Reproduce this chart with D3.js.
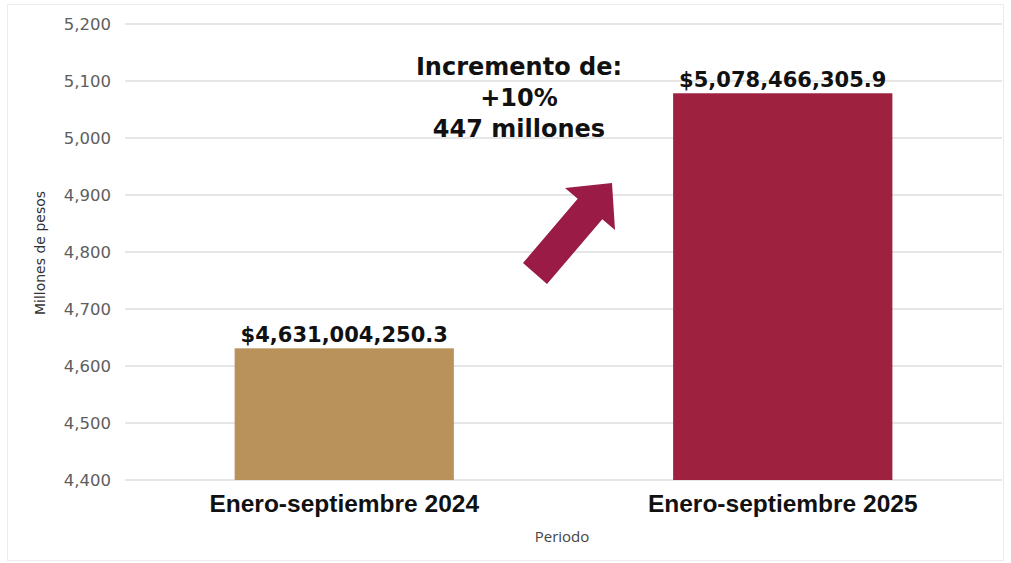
<!DOCTYPE html>
<html><head><meta charset="utf-8">
<script src="https://cdn.jsdelivr.net/npm/d3@7/dist/d3.min.js"></script>
<style>body{margin:0;background:#fff}</style>
</head><body>
<svg id="c" width="1011" height="563"></svg>
<script>
const categories = ["Enero-septiembre 2024", "Enero-septiembre 2025"];
const values = [4631.0042503, 5078.4663059];
const valueLabels = ["$4,631,004,250.3", "$5,078,466,305.9"];
const barColors = ["#b9925b", "#9e2240"];
const yTicks = [4400, 4500, 4600, 4700, 4800, 4900, 5000, 5100, 5200];
const annotation = ["Incremento de:", "+10%", "447 millones"];

const svg = d3.select("#c");
svg.append("rect").attr("x",7.5).attr("y",4.5).attr("width",996).attr("height",556)
  .attr("fill","#fff").attr("stroke","#ececec");

const x = d3.scaleBand().domain(categories).range([125, 1002]).paddingInner(0.5).paddingOuter(0.25);
const y = d3.scaleLinear().domain([4400, 5200]).range([480, 24]);

// grid
svg.append("g").selectAll("line").data(yTicks).join("line")
  .attr("x1",125).attr("x2",1002).attr("y1",d=>y(d)).attr("y2",d=>y(d))
  .attr("stroke","#e6e6e6").attr("stroke-width",2);

// y axis
const ya = svg.append("g").attr("transform","translate(111,0)")
  .call(d3.axisLeft(y).tickValues(yTicks).tickSize(0).tickPadding(0).tickFormat(d3.format(",")));
ya.select(".domain").remove();
ya.selectAll("text").attr("font-family","'DejaVu Sans', sans-serif").attr("font-size",16.5)
  .attr("fill","#5e5e5e");

svg.append("text").attr("transform","translate(45,253) rotate(-90)").attr("text-anchor","middle")
  .attr("font-family","'DejaVu Sans', sans-serif").attr("font-size",14).attr("fill","#333").text("Millones de pesos");

// bars
svg.append("g").selectAll("rect").data(values).join("rect")
  .attr("x",(d,i)=>x(categories[i])).attr("width",x.bandwidth())
  .attr("y",d=>y(d)).attr("height",d=>y(4400)-y(d)).attr("fill",(d,i)=>barColors[i]);

// value labels
svg.append("g").selectAll("text").data(values).join("text")
  .attr("x",(d,i)=>x(categories[i])+x.bandwidth()/2).attr("y",d=>y(d)-6)
  .attr("text-anchor","middle").attr("font-family","'DejaVu Sans', sans-serif")
  .attr("font-weight","bold").attr("font-size",21).attr("fill","#111").text((d,i)=>valueLabels[i]);

// x axis labels
const xa = svg.append("g").attr("transform","translate(0,480)")
  .call(d3.axisBottom(x).tickSize(0).tickPadding(15));
xa.select(".domain").remove();
xa.selectAll("text").attr("font-family","'Liberation Sans Narrow', 'Arial Narrow', sans-serif")
  .attr("font-weight","bold").attr("font-size",24.5).attr("fill","#111");

svg.append("text").attr("x",562).attr("y",542).attr("text-anchor","middle")
  .attr("font-family","'Liberation Sans Narrow', 'Open Sans', sans-serif").attr("font-size",15).attr("fill","#444").text("Periodo");

// annotation
svg.append("g").selectAll("text").data(annotation).join("text")
  .attr("x",519).attr("y",(d,i)=>75+i*31).attr("text-anchor","middle")
  .attr("font-family","'DejaVu Sans', sans-serif").attr("font-weight","bold")
  .attr("font-size",24).attr("fill","#111").text(d=>d);

// arrow
svg.append("polygon")
  .attr("points","523,263 577.7,198.7 565,188 612,183 615,230 602.3,219.3 547,284")
  .attr("fill","#9b1b47");
</script>
</body></html>
